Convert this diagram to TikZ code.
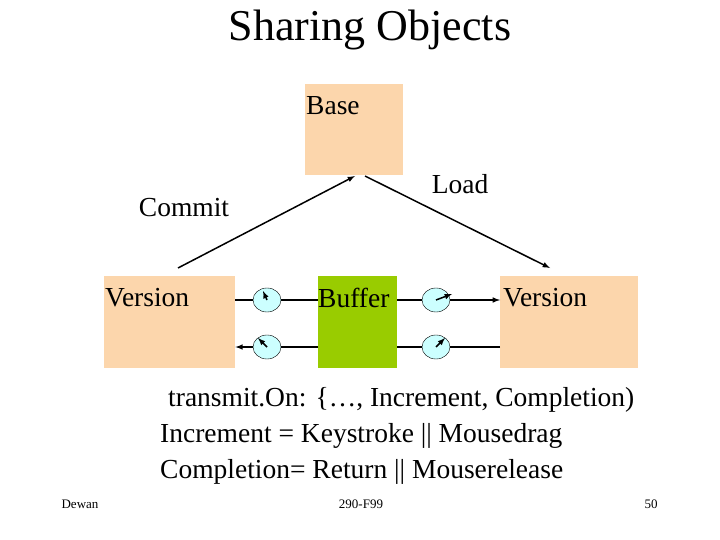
\documentclass[tikz,border=0pt]{standalone}
\usepackage{fontspec}
\setmainfont{Liberation Serif}
\usetikzlibrary{positioning}
\definecolor{peach}{RGB}{252,214,172}
\definecolor{bufgreen}{RGB}{153,204,0}
\definecolor{dialblue}{RGB}{204,255,255}
\tikzset{
  box/.style={draw=none, inner sep=0pt, anchor=north west},
  lbl/.style={font=\fontsize{27.5}{32}\selectfont, inner sep=0pt},
  dial/.style={draw, ellipse, fill=dialblue, minimum width=28pt, minimum height=24pt, inner sep=0pt},
  conn/.style={line width=1.5pt, -latex},
}
\usetikzlibrary{shapes.geometric}
\begin{document}
\begin{tikzpicture}[x=1pt, y=-1pt]
        \useasboundingbox (0,0) rectangle (720,540);
        \node[lbl, font=\fontsize{44}{50}\selectfont] (Title) at (370,30) {Sharing Objects};
        % boxes
        \node[box, fill=peach, minimum width=98pt, minimum height=91pt] (Base) at (305,84) {};
        \node[box, fill=peach, minimum width=131pt, minimum height=92pt] (VerL) at (104,276) {};
        \node[box, fill=bufgreen, minimum width=79pt, minimum height=92pt] (Buffer) at (318,276) {};
        \node[box, fill=peach, minimum width=138pt, minimum height=92pt] (VerR) at (500,276) {};
        \node[lbl, anchor=west] at (306,106) {Base};
        \node[lbl, anchor=west] at (105,298) {Version};
        \node[lbl, anchor=west] at (318,298) {Buffer};
        \node[lbl, anchor=west] at (503,298) {Version};
        \node[lbl] (Commit) at (184,208) {Commit};
        \node[lbl] (Load) at (460,184) {Load};
        % commit / load
        \coordinate (c1) at (178,268);
        \coordinate (c2) at (355,176);
        \coordinate (l1) at (365,176);
        \coordinate (l2) at (550,268);
        \draw[conn] (c1) -- (c2);
        \draw[conn] (l1) -- (l2);
        % dials
        \node[dial] (DUL) at (267,300) {};
        \node[dial] (DLL) at (267,347) {};
        \node[dial] (DUR) at (436,300) {};
        \node[dial] (DLR) at (436,347) {};
        \draw[line width=1.5pt] (VerL.east |- DUL) -- (DUL);
        \draw[line width=1.5pt] (DUL) -- (Buffer.west |- DUL);
        \draw[conn] (DLL) -- (VerL.east |- DLL);
        \draw[line width=1.5pt] (Buffer.west |- DLL) -- (DLL);
        \draw[line width=1.5pt] (Buffer.east |- DUR) -- (DUR);
        \draw[conn] (DUR) -- (VerR.west |- DUR);
        \draw[line width=1.5pt] (VerR.west |- DLR) -- (DLR);
        \draw[line width=1.5pt] (DLR) -- (Buffer.east |- DLR);
        % needles
        \draw[conn] (DUL.center) -- ++(-4,-9);
        \draw[conn] (DLL.center) -- ++(-9,-9);
        \draw[conn] (DUR.center) -- ++(16,-6);
        \draw[conn] (DLR.center) -- ++(9,-9);
        % text
        \node[lbl, anchor=west] at (168,400) {transmit.On: \{…, Increment, Completion)};
        \node[lbl, anchor=west] at (160,436) {Increment = Keystroke || Mousedrag};
        \node[lbl, anchor=west] at (160,472) {Completion= Return || Mouserelease};
        \node[font=\fontsize{13}{15}\selectfont] at (80,504) {Dewan};
        \node[font=\fontsize{13}{15}\selectfont] at (361,504) {290-F99};
        \node[font=\fontsize{13}{15}\selectfont] at (651,504) {50};
\end{tikzpicture}
\end{document}
